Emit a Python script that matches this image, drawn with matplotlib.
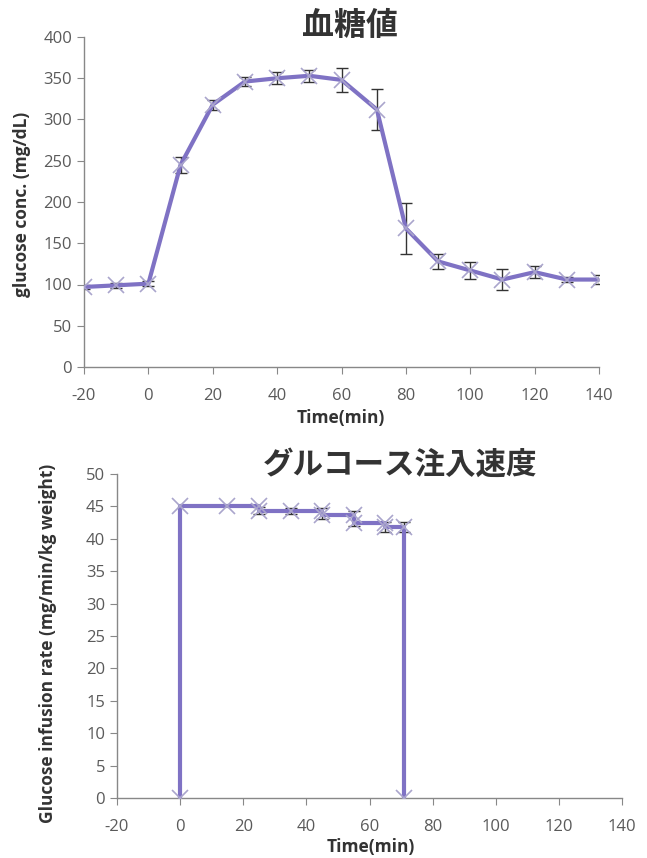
import matplotlib
matplotlib.use("Agg")
import matplotlib.pyplot as plt

# ---- Data: blood glucose ----
glu_time = [-20, -10, 0, 10, 20, 30, 40, 50, 60, 71, 80, 90, 100, 110, 120, 130, 140]
glu_val = [97, 99, 101, 245, 318, 346, 350, 353, 348, 312, 168, 128, 117, 106, 115, 106, 106]
glu_err = [3, 3, 3, 10, 6, 5, 7, 7, 15, 25, 31, 9, 10, 13, 7, 3, 5]

# ---- Data: glucose infusion rate (step profile) ----
gir_time = [0, 0, 15, 25, 25, 35, 45, 45, 55, 55, 65, 65, 71, 71]
gir_val = [0, 45.0, 45.0, 45.0, 44.35, 44.35, 44.35, 43.7, 43.7, 42.4, 42.4, 41.8, 41.8, 0]
gir_err_time = [25, 35, 45, 55, 65, 71]
gir_err_val = [44.35, 44.35, 43.9, 43.1, 41.8, 41.8]
gir_err = [0.5, 0.45, 0.8, 1.2, 0.75, 0.75]

title_top = "血糖値"
title_bot = "グルコース注入速度"

plt.rcParams['font.family'] = ['Open Sans', 'Noto Sans CJK JP', 'DejaVu Sans']
plt.rcParams['axes.unicode_minus'] = False

LINE = '#7f72c4'
MK = '#aaa5cc'
TXT = '#5a5a5a'
AX = '#888888'

fig = plt.figure(figsize=(6.47, 8.58), dpi=100)

def style(ax):
    for s in ['top', 'right']:
        ax.spines[s].set_visible(False)
    for s in ['left', 'bottom']:
        ax.spines[s].set_color(AX)
        ax.spines[s].set_linewidth(1.0)
    ax.tick_params(colors=AX, labelcolor=TXT, labelsize=12, length=5, direction='out')

# top axes
ax1 = fig.add_axes([84/647, 1-367/858, (599-84)/647, (367-37)/858])
ax1.errorbar(glu_time, glu_val, yerr=glu_err, fmt='none', ecolor='#333333',
             elinewidth=1.0, capsize=4, capthick=1.0, zorder=2)
ax1.plot(glu_time, glu_val, color=LINE, lw=3, zorder=3)
ax1.plot(glu_time, glu_val, ls='none', marker='x', ms=11, mew=1.2, color=MK, zorder=4)
ax1.set_xlim(-20, 140)
ax1.set_ylim(0, 400)
ax1.set_xticks(range(-20, 141, 20))
ax1.set_yticks(range(0, 401, 50))
style(ax1)
ax1.tick_params(axis='x', pad=10)
fig.text(350/647, 1-26/858, title_top, ha='center', va='center', fontsize=23,
         fontweight='bold', color='#333333', family=['Noto Sans CJK JP'])
fig.text(22/647, 1-204/858, 'glucose conc. (mg/dL)', rotation=90, ha='center', va='center',
         fontsize=12.5, fontweight='bold', color='#333333')
fig.text(341/647, 1-418/858, 'Time(min)', ha='center', va='center',
         fontsize=12.5, fontweight='bold', color='#333333')

# bottom axes
ax2 = fig.add_axes([117/647, 1-798/858, (622-117)/647, (798-474)/858])
ax2.errorbar(gir_err_time, gir_err_val, yerr=gir_err, fmt='none', ecolor='#333333',
             elinewidth=1.0, capsize=4, capthick=1.0, zorder=2)
ax2.plot(gir_time, gir_val, color=LINE, lw=3, zorder=3)
ax2.plot(gir_time, gir_val, ls='none', marker='x', ms=11, mew=1.2, color=MK, zorder=4)
ax2.set_xlim(-20, 140)
ax2.set_ylim(0, 50)
ax2.set_xticks(range(-20, 141, 20))
ax2.set_yticks(range(0, 51, 5))
style(ax2)
ax2.tick_params(axis='x', pad=10)
fig.text(400/647, 1-465/858, title_bot, ha='center', va='center', fontsize=22,
         fontweight='bold', color='#333333', family=['Noto Sans CJK JP'])
fig.text(48/647, 1-643/858, 'Glucose infusion rate (mg/min/kg weight)', rotation=90,
         ha='center', va='center', fontsize=12.5, fontweight='bold', color='#333333')
fig.text(371/647, 1-847/858, 'Time(min)', ha='center', va='center',
         fontsize=12.5, fontweight='bold', color='#333333')

fig.savefig('out.png', dpi=100, facecolor='white')
